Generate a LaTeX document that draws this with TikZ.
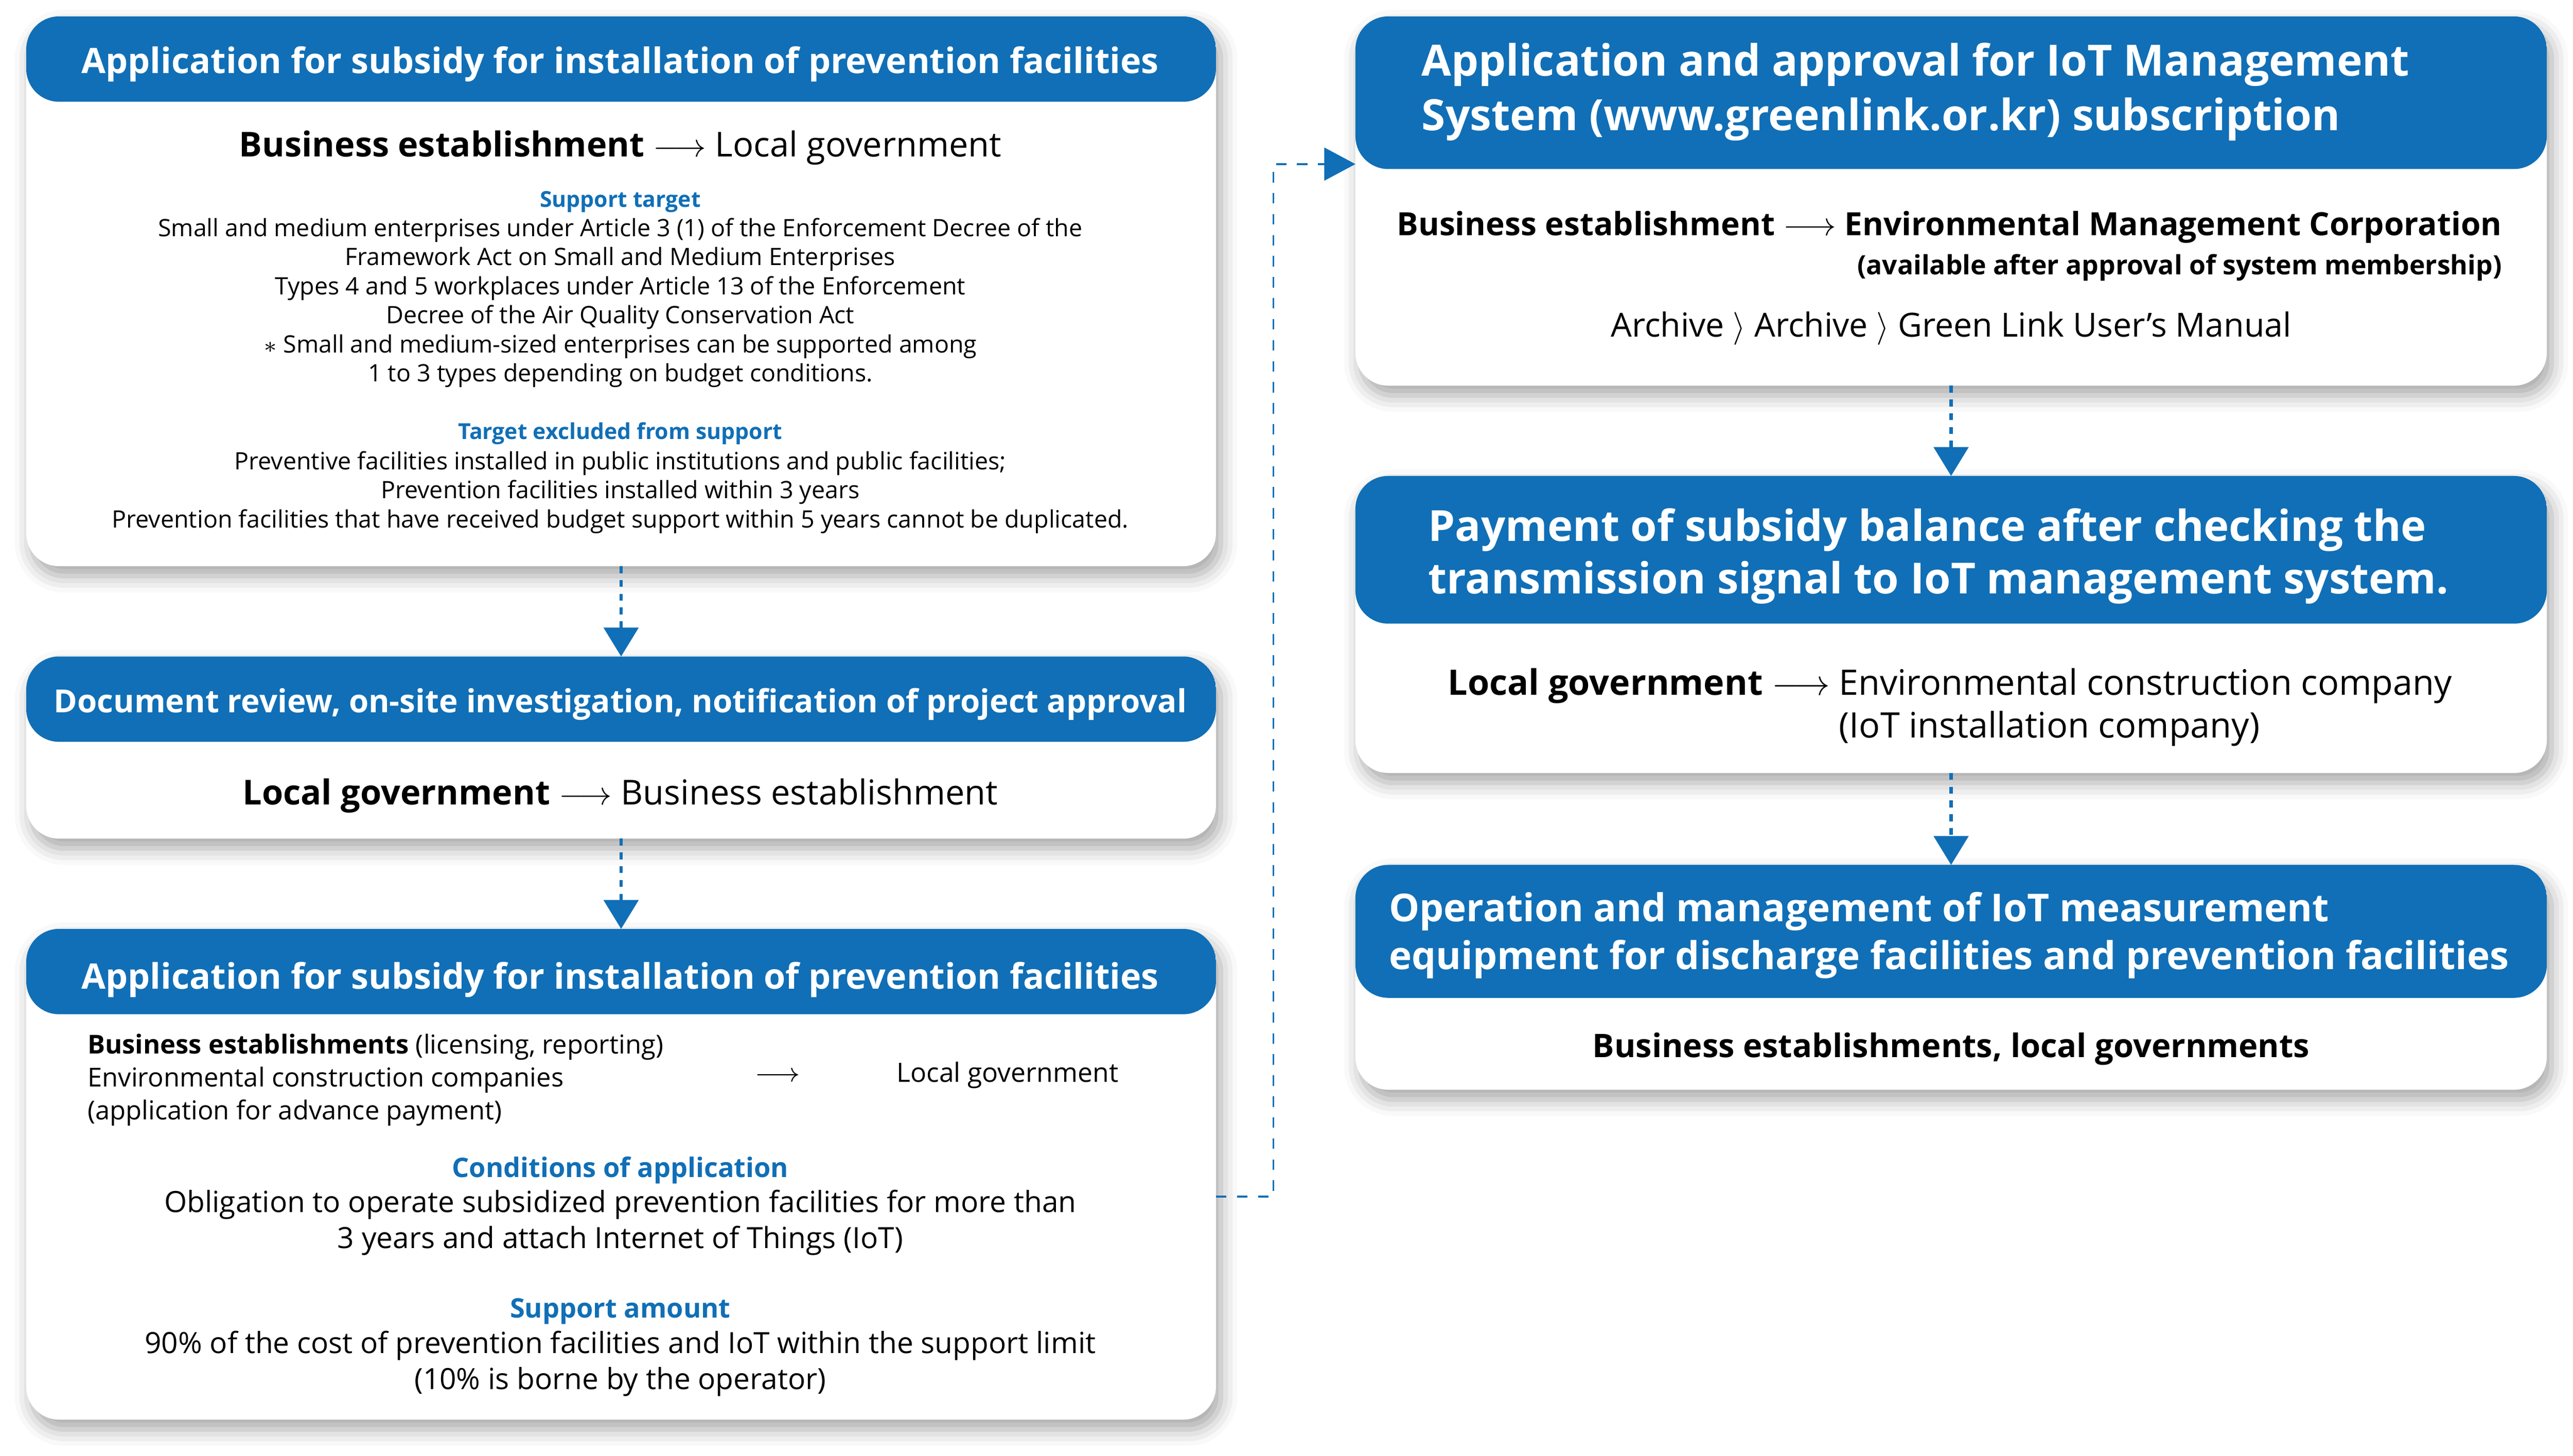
\documentclass[tikz,border=0pt]{standalone}
\usepackage{fontspec}
\setmainfont{Open Sans}
\usetikzlibrary{arrows.meta,shadows.blur}
\definecolor{cardblue}{RGB}{16,111,182}
\tikzset{
  card/.style={rectangle, rounded corners=10pt, fill=white, inner sep=0pt, outer sep=0pt, anchor=north west,
    blur shadow={shadow xshift=1.5pt, shadow yshift=-3pt, shadow blur radius=5pt, shadow opacity=35}},
  hdr/.style={path picture={\fill[cardblue] (path picture bounding box.north west) rectangle ([yshift=-#1]path picture bounding box.north east);}},
  hd/.style={text=white, inner sep=0pt, font=\bfseries\fontsize{10.7}{12}\selectfont},
  big/.style={text=white, inner sep=0pt, align=left, anchor=west},
  main/.style={inner sep=0pt, font=\fontsize{10.45}{12}\selectfont},
  sub/.style={inner sep=0pt, text=cardblue, font=\bfseries\fontsize{6.7}{8}\selectfont},
  small/.style={inner sep=0pt, align=center, font=\fontsize{7.3}{8.85}\selectfont},
  flow/.style={cardblue, line width=1pt, dash pattern=on 2.1pt off 2.1pt, -{Triangle[width=10.5pt,length=8.8pt]}},
  link/.style={cardblue, line width=0.6pt, dash pattern=on 3.2pt off 3.2pt, -{Triangle[width=10pt,length=9.5pt]}}
}
\begin{document}
\begin{tikzpicture}[x=0.5pt,y=-0.5pt]
  \useasboundingbox (0,0) rectangle (1568,887);

  % cards
  \node[card, hdr=26pt, minimum width=362.5pt, minimum height=167.5pt] (box1) at (16,10) {};
  \node[card, hdr=26pt, minimum width=362.5pt, minimum height=55.5pt] (box2) at (16,400) {};
  \node[card, hdr=26pt, minimum width=362.5pt, minimum height=149.5pt] (box3) at (16,566) {};
  \node[card, hdr=46.5pt, minimum width=363pt, minimum height=112.5pt] (box4) at (826,10) {};
  \node[card, hdr=45pt, minimum width=363pt, minimum height=90.5pt] (box5) at (826,290) {};
  \node[card, hdr=40.5pt, minimum width=363pt, minimum height=68.5pt] (box6) at (826,527) {};

  \begin{scope}[yshift=-1pt]
  % card 1
  \node[hd] (h1) at (378,37) {Application for subsidy for installation of prevention facilities};
  \node[main] (m1) at (378,88) {\textbf{Business establishment} $\longrightarrow$ Local government};
  \node[sub] (s1) at (378,121) {Support target};
  \node[small] (t1) at (378,182.5) {Small and medium enterprises under Article 3 (1) of the Enforcement Decree of the\\
    Framework Act on Small and Medium Enterprises\\
    Types 4 and 5 workplaces under Article 13 of the Enforcement\\
    Decree of the Air Quality Conservation Act\\
    $\ast$ Small and medium-sized enterprises can be supported among\\
    1 to 3 types depending on budget conditions.};
  \node[sub] (s2) at (378,262) {Target excluded from support};
  \node[small] (t2) at (378,298) {Preventive facilities installed in public institutions and public facilities;\\
    Prevention facilities installed within 3 years\\
    Prevention facilities that have received budget support within 5 years cannot be duplicated.};

  % card 2
  \node[hd, font=\bfseries\fontsize{9.7}{11}\selectfont] (h2) at (378,427) {Document review, on-site investigation, notification of project approval};
  \node[main] (m2) at (378,483) {\textbf{Local government} $\longrightarrow$ Business establishment};

  % card 3
  \node[hd] (h3) at (378,595) {Application for subsidy for installation of prevention facilities};
  \node[inner sep=0pt, anchor=west, align=left, font=\fontsize{7.95}{10}\selectfont] (who3) at (53,656)
    {\textbf{Business establishments} (licensing, reporting)\\Environmental construction companies\\(application for advance payment)};
  \node[inner sep=0pt, font=\fontsize{8}{10}\selectfont] (ar3) at (474,654) {$\longrightarrow$};
  \node[inner sep=0pt, font=\fontsize{8.1}{10}\selectfont] (to3) at (614,653) {Local government};
  \node[sub, font=\bfseries\fontsize{8.2}{9}\selectfont] (s3) at (378,711) {Conditions of application};
  \node[small, font=\fontsize{8.9}{11}\selectfont] (t3) at (378,743) {Obligation to operate subsidized prevention facilities for more than\\
    3 years and attach Internet of Things (IoT)};
  \node[sub, font=\bfseries\fontsize{8.2}{9}\selectfont] (s4) at (378,797) {Support amount};
  \node[small, font=\fontsize{8.9}{11}\selectfont] (t4) at (378,829) {90\% of the cost of prevention facilities and IoT within the support limit\\
    (10\% is borne by the operator)};

  % card 4
  \node[big, font=\bfseries\fontsize{13.15}{16.5}\selectfont] (h4) at (866,54) {Application and approval for IoT Management\\System (www.greenlink.or.kr) subscription};
  \node[inner sep=0pt, anchor=east, align=right] (m4) at (1525,148)
    {\fontsize{9.75}{11}\selectfont\bfseries Business establishment $\longrightarrow$ Environmental Management Corporation\\
     \fontsize{8.1}{11}\selectfont\bfseries (available after approval of system membership)};
  \node[main, font=\fontsize{10.1}{11}\selectfont] (p4) at (1189,198) {Archive $\rangle$ Archive $\rangle$ Green Link User's Manual};

  % card 5
  \node[big, font=\bfseries\fontsize{13.05}{16}\selectfont] (h5) at (870,337) {Payment of subsidy balance after checking the\\transmission signal to IoT management system.};
  \node[inner sep=0pt, anchor=north west, align=left, font=\fontsize{10.7}{13}\selectfont] (m5) at (882,403)
    {\textbf{Local government} $\longrightarrow$ \begin{tabular}[t]{@{}l@{}}Environmental construction company\\(IoT installation company)\end{tabular}};

  % card 6
  \node[big, font=\bfseries\fontsize{11.7}{14.5}\selectfont] (h6) at (846,568) {Operation and management of IoT measurement\\equipment for discharge facilities and prevention facilities};
  \node[main, font=\bfseries\fontsize{9.9}{11}\selectfont] (m6) at (1189,637) {Business establishments, local governments};
  \end{scope}

  % arrows
  \draw[flow] (box1.south) -- (box2.north);
  \draw[flow] (box2.south) -- (box3.north);
  \draw[flow] (box4.south) -- (box5.north);
  \draw[flow] (box5.south) -- (box6.north);
  \coordinate (turn) at (776,729);
  \draw[link] ([yshift=-6.75pt]box3.east) -- (turn) |- ([yshift=11.25pt]box4.west);
\end{tikzpicture}
\end{document}
